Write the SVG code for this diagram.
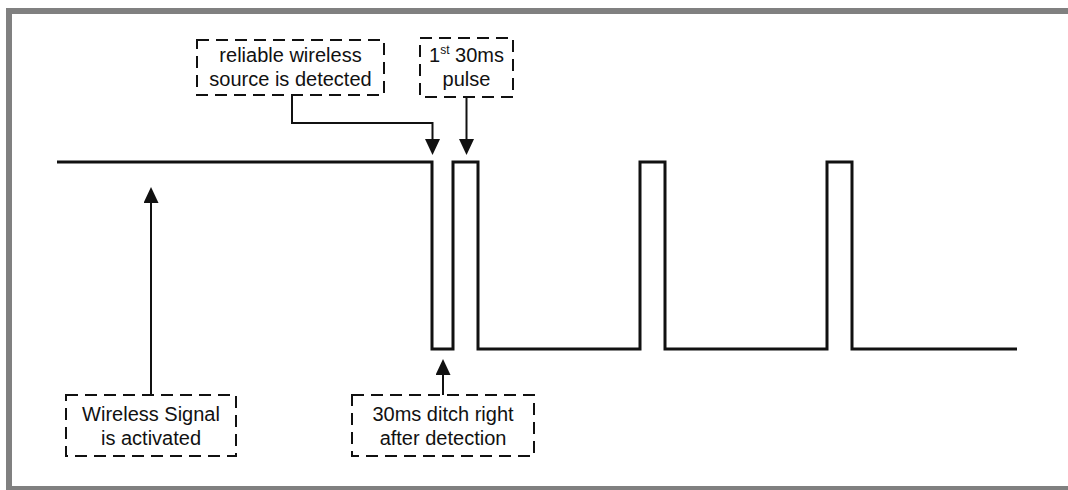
<svg xmlns="http://www.w3.org/2000/svg" width="1068" height="490" viewBox="0 0 1068 490">
<style>
.box{fill:none;stroke:#111;stroke-width:2;stroke-dasharray:12 7;}
.lbl{font-family:"Liberation Sans",Arial,sans-serif;font-size:20px;fill:#111;text-anchor:middle;}
.conn{fill:none;stroke:#111;stroke-width:2;}
.wave{fill:none;stroke:#111;stroke-width:3;stroke-linejoin:miter;}
</style>
<defs>
<marker id="ah" viewBox="0 0 16 15" refX="0" refY="7.5" markerWidth="16" markerHeight="15" markerUnits="userSpaceOnUse" orient="auto">
<path d="M0,0 L16,7.5 L0,15 z" fill="#111"/>
</marker>
</defs>
<rect x="0" y="0" width="1068" height="490" fill="#fff"/>
<rect x="9" y="11" width="1080" height="478" fill="none" stroke="#808080" stroke-width="6"/>
<g id="signal">
<polyline class="wave" points="57,162 432,162 432,349 453,349 453,162 478,162 478,349 640,349 640,162 665,162 665,349 827,349 827,162 852,162 852,349 1017,349"/>
</g>
<g id="node-reliable">
<rect class="box" x="197" y="40" width="187" height="55"/>
<text class="lbl" x="290.5" y="62">reliable wireless</text>
<text class="lbl" x="290.5" y="86">source is detected</text>
</g>
<g id="node-pulse">
<rect class="box" x="420" y="38" width="93" height="59"/>
<text class="lbl" x="466.5" y="62">1<tspan font-size="12" dy="-8">st</tspan><tspan dy="8"> 30ms</tspan></text>
<text class="lbl" x="466.5" y="86">pulse</text>
</g>
<g id="node-activated">
<rect class="box" x="66" y="395" width="170" height="61"/>
<text class="lbl" x="151" y="421">Wireless Signal</text>
<text class="lbl" x="151" y="445">is activated</text>
</g>
<g id="node-ditch">
<rect class="box" x="352" y="395" width="182" height="61"/>
<text class="lbl" x="443" y="421">30ms ditch right</text>
<text class="lbl" x="443" y="445">after detection</text>
</g>
<g id="connectors">
<path class="conn" d="M292,95 V123 H432.5 V139" marker-end="url(#ah)"/>
<path class="conn" d="M466.5,97 V139" marker-end="url(#ah)"/>
<path class="conn" d="M443,395 V375" marker-end="url(#ah)"/>
<path class="conn" d="M151,395 V203" marker-end="url(#ah)"/>
</g>
</svg>
